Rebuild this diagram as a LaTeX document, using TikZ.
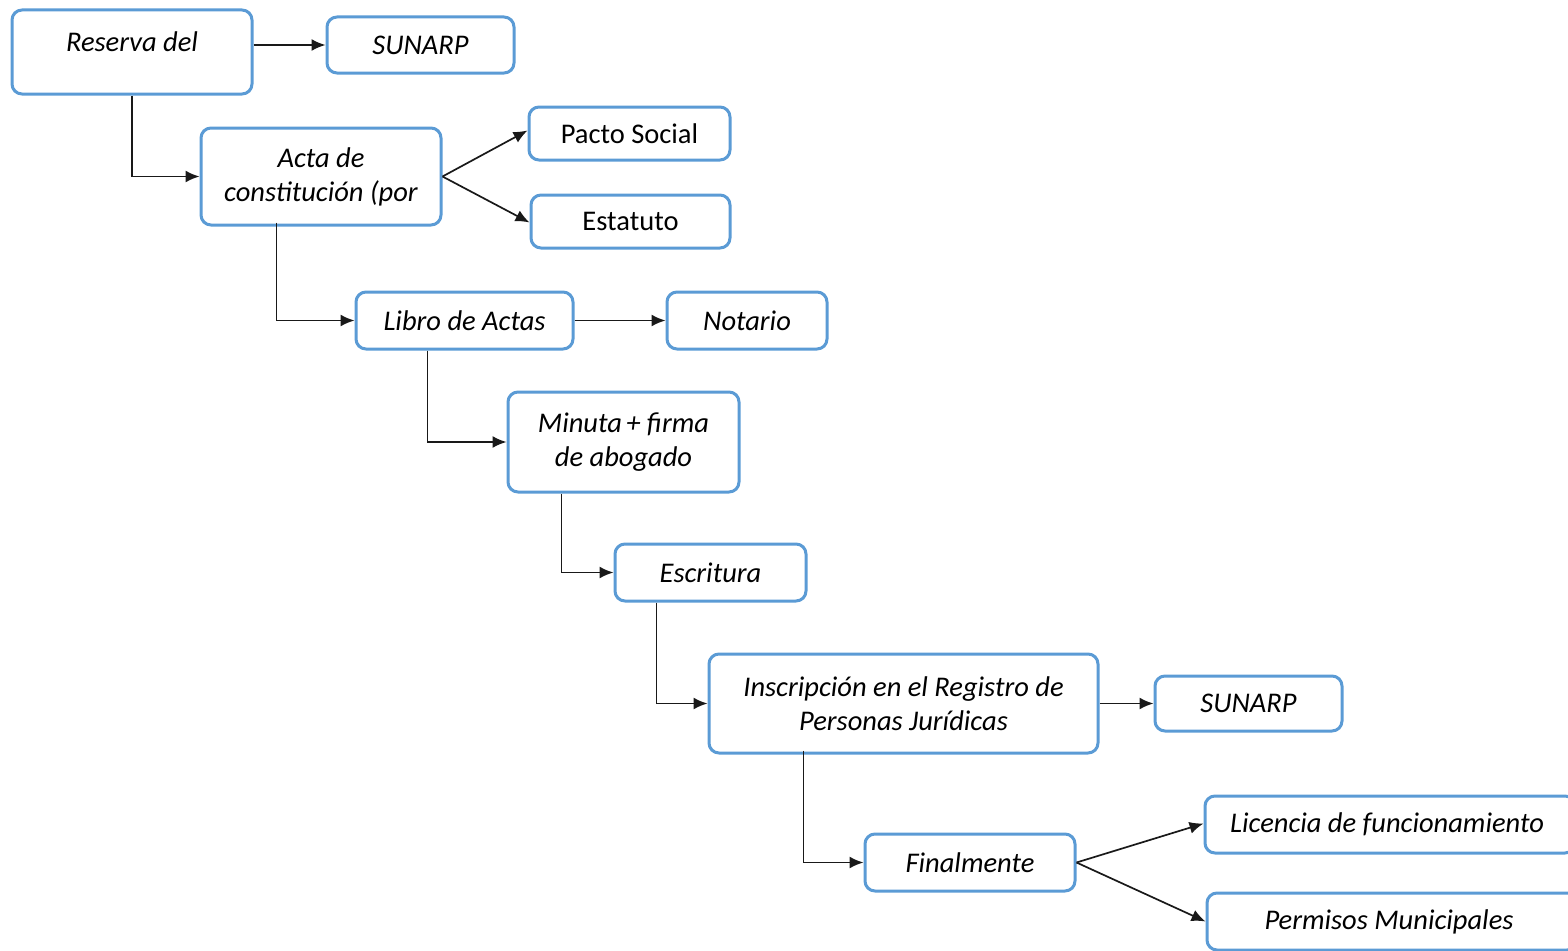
\documentclass[tikz,border=0pt]{standalone}
\usepackage{fontspec}
\setmainfont{Carlito}
\usetikzlibrary{arrows.meta}
\definecolor{boxblue}{RGB}{91,155,213}
\definecolor{linegray}{RGB}{25,25,25}
\begin{document}
\begin{tikzpicture}[x=1pt,y=-1pt,
  box/.style={draw=boxblue, line width=3pt, rounded corners=10pt, fill=white, inner sep=0pt, align=center,
    font=\fontsize{28.5}{34}\selectfont\itshape},
  upbox/.style={box, font=\fontsize{28.5}{34}\selectfont},
  txt/.style={inner sep=0pt, font=\fontsize{28.5}{34}\selectfont\itshape},
  conn/.style={draw=linegray, line width=1.7pt, -{Latex[length=14pt,width=12pt]}}]
\useasboundingbox (0,0) rectangle (1568,950);
\clip (0,0) rectangle (1568,950);
% boxes
\node[box, minimum width=240, minimum height=84] (reserva) at (132,52) {};
\node[txt] (reservaT) at (132,42) {Reserva del};
\node[box, minimum width=187, minimum height=56] (sunarp1) at (420.5,45) {SUNARP};
\node[box, minimum width=240, minimum height=97] (acta) at (321,176.5) {Acta de\\constitución (por};
\node[upbox, minimum width=201, minimum height=53] (pacto) at (629.5,133.5) {Pacto Social};
\node[upbox, minimum width=199, minimum height=53] (estatuto) at (630.5,221.5) {Estatuto};
\node[box, minimum width=217, minimum height=57] (libro) at (464.5,320.5) {Libro de Actas};
\node[box, minimum width=160, minimum height=57] (notario) at (747,320.5) {Notario};
\node[box, minimum width=231, minimum height=100] (minuta) at (623.5,442) {Minuta\hspace{-2pt} + firma\\de abogado};
\node[box, minimum width=191, minimum height=57] (escritura) at (710.5,572.5) {Escritura};
\node[box, minimum width=389, minimum height=99] (inscripcion) at (903.5,703.5) {Inscripción en el Registro de\\Personas Jurídicas};
\node[box, minimum width=187, minimum height=55] (sunarp2) at (1248.5,703.5) {SUNARP};
\node[box, minimum width=210, minimum height=57] (final) at (970,862.5) {Finalmente};
\node[box, minimum width=370, minimum height=57] (licencia) at (1390,824.5) {Licencia de funcionamiento\hspace*{6pt}};
\node[box, minimum width=370, minimum height=57] (permisos) at (1392,921.5) {Permisos Municipales\hspace*{6pt}};
% connectors
\draw[conn] (reserva.east |- sunarp1.west) -- (sunarp1.west);
\draw[conn] (reserva.south) |- (acta.west);
\draw[conn] (acta.east) -- ([yshift=3pt]pacto.west);
\draw[conn] (acta.east) -- ([yshift=-1pt]estatuto.west);
\draw[conn] ([xshift=77pt,yshift=4pt]acta.south west) |- (libro.west);
\draw[conn] (libro.east) -- (notario.west);
\draw[conn] ([xshift=73pt]libro.south west) |- (minuta.west);
\draw[conn] ([xshift=55pt]minuta.south west) |- (escritura.west);
\draw[conn] ([xshift=43pt]escritura.south west) |- (inscripcion.west);
\draw[conn] (inscripcion.east) -- (sunarp2.west);
\draw[conn] ([xshift=96pt,yshift=4pt]inscripcion.south west) |- (final.west);
\draw[conn] (final.east) -- ([yshift=1pt]licencia.west);
\draw[conn] (final.east) -- (permisos.west);
\end{tikzpicture}
\end{document}
